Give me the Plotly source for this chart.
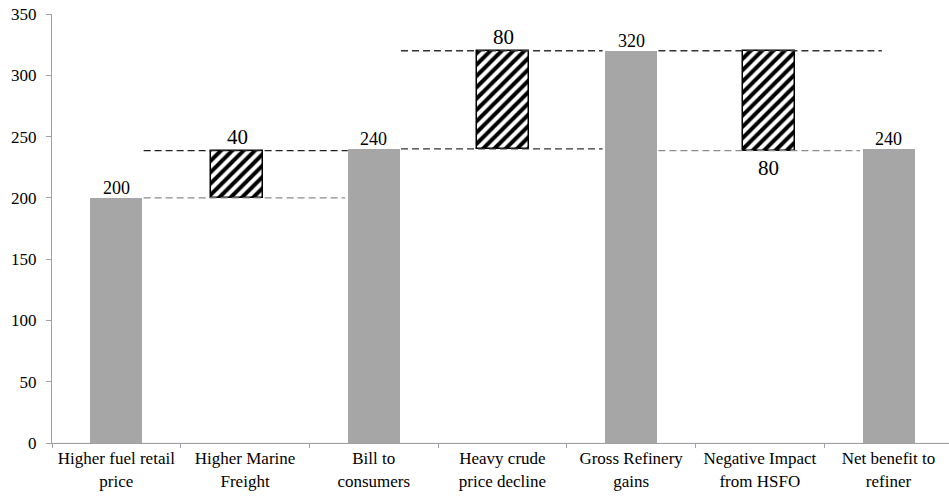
import plotly.graph_objects as go

# ---------------- data ----------------
categories = ["Higher fuel retail<br>price", "Higher Marine<br>Freight", "Bill to<br>consumers",
              "Heavy crude<br>price decline", "Gross Refinery<br>gains", "Negative Impact<br>from HSFO",
              "Net benefit to<br>refiner"]

total_idx = [0, 2, 4, 6]
total_values = [200, 240, 320, 240]

step_idx = [1, 3, 5]
step_low = [200, 240, 238.5]
step_high = [238.5, 320, 320]
step_labels = ["40", "80", "80"]
step_label_side = ["top", "top", "bottom"]

connector_levels = [200, 238.5, 240, 320, 320, 238.5]
connector_from = [0, 0, 2, 2, 4, 4]
connector_to = [2, 2, 4, 4, 6, 6]

# ---------------- style ----------------
FONT = "Liberation Serif"
BAR_W = 0.404
HALF = BAR_W / 2
step_shift = [-0.06, 0.008, 0.07]
connector_colors = ["#8c8c8c", "#222222", "#333333", "#333333", "#333333", "#8c8c8c"]
connector_ext = [0.0, 0.02, 0.0, 0.0, 0.17, 0.0]
XR = [-0.5, 6.47]

fig = go.Figure()

# category placeholders so all 7 categories exist in order
fig.add_trace(go.Bar(x=categories, y=[0] * len(categories), showlegend=False,
                     marker=dict(color="rgba(0,0,0,0)"), hoverinfo="skip"))

# gray total bars on category axis
fig.add_trace(go.Bar(
    x=[categories[i] for i in total_idx], y=total_values,
    marker=dict(color="#a6a6a6", line=dict(width=0)),
    width=BAR_W, showlegend=False, hoverinfo="skip",
))

# hatched step bars on linear overlay axis
xs = [i + s for i, s in zip(step_idx, step_shift)]
fig.add_trace(go.Bar(
    x=xs, y=[h - l for h, l in zip(step_high, step_low)], base=step_low,
    width=BAR_W, xaxis="x2",
    marker=dict(color="white", line=dict(color="black", width=1.5),
                pattern=dict(shape="/", fgcolor="black", bgcolor="white", size=8,
                             solidity=0.5, fgopacity=1)),
    showlegend=False, hoverinfo="skip",
))

# connectors
for lvl, a, b, c, e in zip(connector_levels, connector_from, connector_to, connector_colors, connector_ext):
    fig.add_trace(go.Scatter(
        x=[a + HALF + 0.01, b - HALF - 0.02 + e], y=[lvl, lvl], xaxis="x2", mode="lines",
        line=dict(color=c, width=1.3, dash="7px,4px"), showlegend=False, hoverinfo="skip",
    ))

# total labels
for i, v in zip(total_idx, total_values):
    fig.add_annotation(x=i, y=v, xref="x2", yref="y", text=str(v), showarrow=False,
                       yanchor="bottom", yshift=-2,
                       font=dict(family=FONT, size=18, color="black"))

# step labels
for x, lo, hi, lab, side in zip(xs, step_low, step_high, step_labels, step_label_side):
    if side == "top":
        fig.add_annotation(x=x, y=hi, xref="x2", yref="y", text=lab, showarrow=False,
                           yanchor="bottom", yshift=0,
                           font=dict(family=FONT, size=21, color="black"))
    else:
        fig.add_annotation(x=x, y=lo, xref="x2", yref="y", text=lab, showarrow=False,
                           yanchor="top", yshift=-3,
                           font=dict(family=FONT, size=21, color="black"))

fig.update_layout(
    width=949, height=496,
    margin=dict(l=52, r=0, t=14, b=53),
    paper_bgcolor="white", plot_bgcolor="white",
    barmode="overlay", bargap=0,
    font=dict(family=FONT, size=18, color="black"),
    xaxis=dict(type="category", categoryorder="array", categoryarray=categories,
               range=XR, tickson="boundaries", ticks="outside", ticklen=4, automargin=False,
               tickangle=0, ticklabeloverflow="allow",
               tickcolor="#a0a0a0", showline=True, linecolor="#a0a0a0", linewidth=1,
               showgrid=False, tickfont=dict(family=FONT, size=17, color="black")),
    xaxis2=dict(overlaying="x", range=XR, visible=False, showgrid=False),
    yaxis=dict(range=[0, 350], dtick=50, ticks="outside", ticklen=5, tickcolor="#a0a0a0",
               showline=True, linecolor="#a0a0a0", linewidth=1, showgrid=False, zeroline=False,
               automargin=False, ticklabeloverflow="allow",
               tickfont=dict(family=FONT, size=17, color="black"), ticklabelstandoff=6),
)

fig.write_html("out.html", config={"displayModeBar": False},
               post_script="document.body.style.margin='0';")
